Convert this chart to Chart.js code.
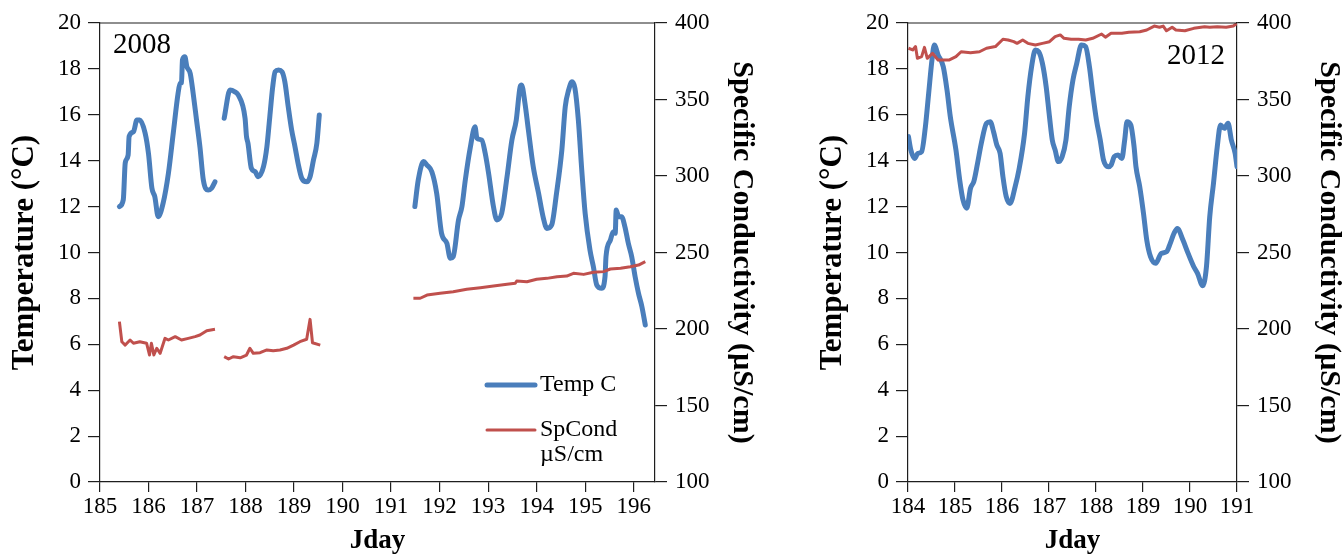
<!DOCTYPE html>
<html><head><meta charset="utf-8">
<script src="https://cdn.jsdelivr.net/npm/chart.js@4.4.1/dist/chart.umd.min.js"></script>
<style>
html,body{margin:0;padding:0;background:#fff;}
body{width:1344px;height:558px;position:relative;overflow:hidden;}
canvas{position:absolute;top:0;}
#c1{left:0;}
#c2{left:780px;}
</style></head><body>
<canvas id="c1" width="780" height="558"></canvas>
<canvas id="c2" width="564" height="558"></canvas>
<script>
// ---------- 2008 panel ----------
const temp08Day = [185.40,185.48,185.52,185.58,185.60,185.69,185.76,185.82,185.93,186.00,186.07,186.13,186.20,186.30,186.41,186.51,186.61,186.65,186.68,186.70,186.75,186.79,186.86,186.92,186.99,187.06,187.13,187.23,187.30,187.37,
  187.46,
  187.56,187.68,187.78,187.85,187.99,188.02,188.05,188.12,188.20,188.26,188.37,188.44,188.50,188.56,188.61,188.68,188.75,188.81,188.88,188.95,189.02,189.09,189.16,189.26,189.33,189.40,189.47,189.52,
  190.50,
  191.49,191.56,191.67,191.74,191.84,191.94,192.04,192.15,192.22,192.28,192.39,192.46,192.53,192.63,192.73,192.77,192.87,192.94,193.01,193.11,193.18,193.28,193.39,193.49,193.58,193.66,193.69,193.76,193.83,193.93,194.04,194.14,194.21,194.31,194.41,194.52,194.59,194.66,194.73,194.79,194.86,194.93,195.00,195.10,195.17,195.24,195.34,195.41,195.43,195.52,195.58,195.62,195.64,195.69,195.75,195.82,195.89,195.96,196.03,196.10,196.17,196.24];
const temp08 = [12.0,12.3,13.9,14.25,15.05,15.26,15.77,15.77,15.2,14.3,12.8,12.43,11.56,12.14,13.45,15.2,16.94,17.37,17.4,18.39,18.53,18.1,17.8,16.94,15.77,14.6,13.16,12.72,12.8,13.08,
  null,
  15.85,17.08,17.0,16.86,15.85,15.05,14.76,13.67,13.52,13.3,13.74,14.61,15.92,17.22,17.88,17.95,17.88,17.44,16.35,15.34,14.6,13.81,13.23,13.08,13.3,14.03,14.76,15.99,
  null,
  12.0,13.16,13.96,13.81,13.52,12.58,10.84,10.4,9.75,9.82,11.42,12.0,13.16,14.54,15.48,14.98,14.9,14.32,13.45,12.0,11.42,11.71,13.3,14.9,15.77,17.22,17.3,16.5,15.34,13.74,12.58,11.49,11.05,11.2,12.58,14.47,16.35,17.08,17.44,17.15,15.77,13.6,11.71,10.1,9.38,8.58,8.44,8.95,9.82,10.54,10.9,10.84,11.85,11.56,11.56,11.12,10.4,9.82,8.95,8.22,7.64,6.84];

const cond08Day = [185.40,185.45,185.52,185.62,185.69,185.82,185.96,186.02,186.06,186.11,186.17,186.24,186.34,186.41,186.55,186.68,186.82,186.96,187.06,187.20,187.37,
  187.46,
  187.56,187.65,187.75,187.89,188.02,188.09,188.16,188.30,188.44,188.57,188.71,188.85,188.99,189.12,189.26,189.33,189.38,189.54,
  190.50,
  191.46,191.60,191.74,192.01,192.28,192.56,192.84,193.11,193.39,193.56,193.59,193.80,194.00,194.21,194.42,194.62,194.76,194.97,195.17,195.38,195.52,195.73,195.93,196.10,196.24];
const cond08 = [204.8,191.7,189.5,192.8,190.7,191.7,190.7,183.0,190.7,183.0,187.4,184.1,193.9,192.8,195.0,192.8,193.9,195.0,196.1,198.9,199.8,
  null,
  181.9,180.4,181.9,181.2,183.0,187.4,184.1,184.5,186.3,185.8,186.3,187.4,189.5,191.7,193.3,206.3,191.0,189.5,
  null,
  220.1,220.1,222.2,223.3,224.4,226.0,227.0,228.1,229.2,229.9,231.4,230.9,232.5,233.1,234.2,234.6,236.4,235.7,237.1,237.5,239.2,239.7,240.7,241.8,244.0];

// ---------- 2012 panel ----------
const temp12Day = [184.01,184.06,184.14,184.21,184.29,184.37,184.44,184.51,184.56,184.64,184.75,184.83,184.90,185.02,185.10,185.17,185.25,185.33,185.40,185.48,185.56,185.67,185.75,185.82,185.89,185.96,186.02,186.09,186.17,186.28,186.36,186.48,186.55,186.63,186.71,186.78,186.86,186.94,187.01,187.07,187.13,187.20,187.28,187.36,187.43,187.51,187.59,187.69,187.78,187.86,187.93,188.01,188.09,188.16,188.26,188.32,188.39,188.47,188.55,188.61,188.66,188.74,188.81,188.85,188.93,189.01,189.08,189.16,189.27,189.39,189.50,189.58,189.66,189.73,189.85,189.96,190.08,190.16,190.27,190.35,190.42,190.50,190.58,190.65,190.73,190.81,190.88,190.96,191.00];
const temp12 = [15.05,14.47,14.1,14.32,14.39,15.48,16.94,18.39,19.04,18.61,18.1,17.08,15.92,14.47,13.16,12.29,11.93,12.8,13.09,13.89,14.76,15.63,15.7,15.26,14.68,14.32,13.3,12.43,12.14,12.87,13.6,15.19,16.79,18.1,18.82,18.75,18.24,17.22,15.92,14.9,14.47,13.96,14.18,14.9,16.35,17.52,18.24,19.04,18.97,18.1,16.94,15.77,14.9,14.03,13.74,13.81,14.18,14.25,14.1,14.9,15.7,15.56,14.61,13.74,12.87,11.71,10.54,9.82,9.53,9.96,10.03,10.4,10.84,11.05,10.54,9.96,9.38,9.09,8.55,9.38,11.56,13.02,14.61,15.56,15.41,15.63,14.9,14.32,13.74];

const cond12Day = [184.01,184.10,184.16,184.20,184.29,184.35,184.41,184.52,184.64,184.87,185.02,185.13,185.33,185.52,185.67,185.86,186.02,186.13,186.25,186.32,186.44,186.55,186.71,186.86,187.01,187.13,187.24,187.32,187.47,187.63,187.78,187.93,188.12,188.20,188.32,188.55,188.70,188.93,189.08,189.24,189.35,189.43,189.50,189.62,189.70,189.89,190.08,190.31,190.42,190.58,190.77,190.92,191.00];
const cond12 = [383.5,382.4,384.6,376.9,378.0,384.1,376.9,380.2,375.8,375.8,378.0,381.2,380.6,381.2,383.5,384.6,389.4,388.9,387.8,386.7,388.9,386.7,385.6,386.7,387.8,391.1,392.2,390.0,389.4,389.4,388.9,390.0,392.8,390.7,393.3,393.3,393.9,394.3,395.4,398.0,397.2,398.0,394.9,397.2,395.4,394.9,396.5,397.6,397.2,397.6,397.2,398.0,399.8];

const tempTicks = [0,2,4,6,8,10,12,14,16,18,20];
const condTicks = [100,150,200,250,300,350,400];

// ---------- styling ----------
const FONT = "'Liberation Serif', 'Times New Roman', serif";
const BLUE = '#4a7ebb';
const RED = '#c0504d';
const AXIS = '#1e1e1e';

function pts(days, vals){ return days.map((d,i)=>({x:d, y:vals[i]})); }

const decor = {
  id: 'decor',
  afterDraw(chart, args, o) {
    const {ctx, chartArea: a} = chart;
    ctx.save();
    ctx.strokeStyle = AXIS; ctx.lineWidth = 1.2;
    ctx.beginPath(); ctx.moveTo(a.left, a.top); ctx.lineTo(a.right, a.top); ctx.stroke();
    ctx.fillStyle = '#000';
    ctx.font = '29px ' + FONT;
    ctx.textBaseline = 'middle';
    ctx.textAlign = o.yearAlign;
    ctx.fillText(o.year, o.yearX, o.yearY);
    if (o.legend) {
      const L = o.legend;
      ctx.lineCap = 'round';
      ctx.strokeStyle = BLUE; ctx.lineWidth = 5;
      ctx.beginPath(); ctx.moveTo(L.x0, L.y1); ctx.lineTo(L.x1, L.y1); ctx.stroke();
      ctx.strokeStyle = RED; ctx.lineWidth = 3;
      ctx.beginPath(); ctx.moveTo(L.x0, L.y2); ctx.lineTo(L.x1, L.y2); ctx.stroke();
      ctx.font = '24px ' + FONT;
      ctx.textAlign = 'left';
      ctx.fillText('Temp C', L.tx, L.y1);
      ctx.fillText('SpCond', L.tx, L.y2);
      ctx.fillText('\u00b5S/cm', L.tx, L.y2 + 25);
    }
    ctx.restore();
  }
};

function makePanel(id, cfg) {
  new Chart(document.getElementById(id), {
    type: 'line',
    data: {
      datasets: [
        { label: 'SpCond µS/cm', data: pts(cfg.condDay, cfg.cond), yAxisID: 'y2', borderColor: RED, borderWidth: 3, pointRadius: 0, tension: 0, spanGaps: false, order: 0, borderJoinStyle: 'round' },
        { label: 'Temp C', data: pts(cfg.tempDay, cfg.temp), yAxisID: 'y', borderColor: BLUE, borderWidth: 5, pointRadius: 0, cubicInterpolationMode: 'monotone', spanGaps: false, order: 1, borderJoinStyle: 'round', borderCapStyle: 'round' }
      ]
    },
    options: {
      responsive: false, animation: false, devicePixelRatio: 1,
      layout: { padding: { top: 23, left: 0, right: 0, bottom: 0 } },
      plugins: { legend: { display: false }, tooltip: { enabled: false }, decor: cfg.decor },
      scales: {
        x: {
          type: 'linear', position: 'bottom', min: cfg.xmin, max: cfg.xmax,
          afterBuildTicks: s => { s.ticks = cfg.xTicks.map(v => ({value: v})); },
          ticks: { font: { family: FONT, size: 23 }, color: '#000', padding: 1, maxRotation: 0, autoSkip: false },
          grid: { drawOnChartArea: false, tickLength: 10, color: AXIS, lineWidth: 1.2 },
          border: { display: true, color: AXIS, width: 1.2 },
          title: { display: true, text: 'Jday', color: '#000', font: { family: FONT, size: 27, weight: 'bold', lineHeight: 1 }, padding: { top: 0, bottom: 3 } },
          afterFit: s => { s.height = 76; }
        },
        y: {
          type: 'linear', position: 'left', min: 0, max: 20,
          afterBuildTicks: s => { s.ticks = tempTicks.map(v => ({value: v})); },
          ticks: { font: { family: FONT, size: 23 }, color: '#000', padding: 7 },
          grid: { drawOnChartArea: false, tickLength: 12, color: AXIS, lineWidth: 1.2 },
          border: { display: true, color: AXIS, width: 1.2 },
          title: { display: true, text: 'Temperature (°C)', color: '#000', font: { family: FONT, size: 31, weight: 'bold', lineHeight: 1 }, padding: { top: cfg.yTitlePad, bottom: 0 } },
          afterFit: s => { s.width = cfg.yWidth; }
        },
        y2: {
          type: 'linear', position: 'right', min: 100, max: 400,
          afterBuildTicks: s => { s.ticks = condTicks.map(v => ({value: v})); },
          ticks: { font: { family: FONT, size: 23 }, color: '#000', padding: 8 },
          grid: { drawOnChartArea: false, tickLength: 12, color: AXIS, lineWidth: 1.2 },
          border: { display: true, color: AXIS, width: 1.2 },
          title: { display: true, text: 'Specific Conductivity (µS/cm)', color: '#000', font: { family: FONT, size: 30, weight: 'bold', lineHeight: 1 }, padding: { top: cfg.y2TitlePad, bottom: 0 } },
          afterFit: s => { s.width = cfg.y2Width; }
        }
      }
    },
    plugins: [decor]
  });
}

makePanel('c1', {
  tempDay: temp08Day, temp: temp08, condDay: cond08Day, cond: cond08,
  xmin: 185, xmax: 196.44, xTicks: [185,186,187,188,189,190,191,192,193,194,195,196],
  yWidth: 100, y2Width: 125, yTitlePad: 9.5, y2TitlePad: 23,
  decor: { year: '2008', yearX: 113, yearY: 45, yearAlign: 'left',
           legend: { x0: 487, x1: 535, tx: 540, y1: 385, y2: 430 } }
});

makePanel('c2', {
  tempDay: temp12Day, temp: temp12, condDay: cond12Day, cond: cond12,
  xmin: 184, xmax: 191, xTicks: [184,185,186,187,188,189,190,191],
  yWidth: 128, y2Width: 107, yTitlePad: 37, y2TitlePad: 0,
  decor: { year: '2012', yearX: 445, yearY: 56, yearAlign: 'right', legend: null }
});
</script>
</body></html>
